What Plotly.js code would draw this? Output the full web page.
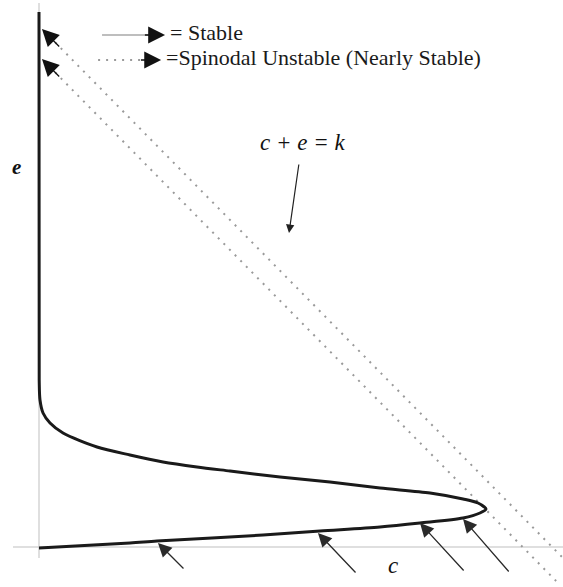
<!DOCTYPE html>
<html>
<head>
<meta charset="utf-8">
<script src="https://cdn.plot.ly/plotly-3.0.1.min.js"></script>
<style>html,body{margin:0;padding:0;background:#fff;}#chart{width:563px;height:587px;}</style>
</head>
<body>
<div id="chart"></div>
<script>
// Equilibrium curve (c, e)
const curveC = [0.000, 0.924, 1.198, 2.274, 2.853, 3.462, 3.868, 4.305, 4.477, 4.538,
                4.457, 4.305, 3.970, 3.462, 2.954, 2.447, 1.939, 1.604, 1.259, 0.924,
                0.589, 0.244, 0.112, 0.041, 0.010, 0.002, 0.000];
const curveE = [-0.01, 0.04, 0.06, 0.12, 0.16, 0.20, 0.24, 0.29, 0.34, 0.38,
                0.44, 0.48, 0.54, 0.59, 0.65, 0.70, 0.76, 0.80, 0.85, 0.92,
                1.00, 1.14, 1.24, 1.34, 1.47, 1.67, 5.35];
// Lines c + e = k (spinodal unstable trajectories)
const kValues = [4.91, 5.21];
// Stable trajectories: tails and tips
const stableTailC = [1.482, 3.228, 4.325, 4.782];
const stableTailE = [-0.23, -0.27, -0.25, -0.26];
const stableTipC  = [1.208, 2.832, 3.868, 4.305];
const stableTipE  = [0.04, 0.14, 0.24, 0.28];
// Texts
const legendStable = "= Stable";
const legendSpinodal = "=Spinodal Unstable (Nearly Stable)";
const lineLabel = "c + e = k";
const xLabel = "c";
const yLabel = "e";

const serif = "Liberation Serif, Times New Roman, serif";
const dotColor = "#9a9a9a";

const traces = [];
// dotted k lines
kValues.forEach(k => {
  const c0 = 0.05, c1 = k + 0.34;
  traces.push({x: [c0, c1], y: [k - c0, k - c1], mode: "lines",
    line: {color: dotColor, width: 2, dash: "2px,6px"}, hoverinfo: "skip"});
});
// legend dotted sample
traces.push({x: [0.60, 1.08], y: [4.87, 4.87], mode: "lines",
  line: {color: dotColor, width: 2, dash: "2px,6px"}, hoverinfo: "skip"});
// main curve
traces.push({x: curveC, y: curveE, mode: "lines",
  line: {color: "#1a1a1a", width: 3, shape: "spline", smoothing: 0.8}, hoverinfo: "skip"});

const ann = [];
// arrowheads at top of dotted lines
kValues.forEach(k => {
  ann.push({x: 0.03, y: k - 0.03, ax: 0.22, ay: k - 0.22, axref: "x", ayref: "y",
    xref: "x", yref: "y", text: "", showarrow: true, arrowhead: 2, arrowsize: 2.6,
    arrowwidth: 1.3, arrowcolor: "#111", standoff: 0});
});
// stable arrows
stableTipC.forEach((c, i) => {
  ann.push({x: c, y: stableTipE[i], ax: stableTailC[i], ay: stableTailE[i],
    axref: "x", ayref: "y", xref: "x", yref: "y", text: "", showarrow: true,
    arrowhead: 2, arrowsize: 2.1, arrowwidth: 1.3, arrowcolor: "#2a2a2a", standoff: 0});
});
// legend arrowheads
ann.push({x: 1.28, y: 5.12, ax: 1.06, ay: 5.12, axref: "x", ayref: "y", xref: "x", yref: "y",
  text: "", showarrow: true, arrowhead: 2, arrowsize: 2.6, arrowwidth: 1.3, arrowcolor: "#111", standoff: 0});
ann.push({x: 1.24, y: 4.87, ax: 1.02, ay: 4.87, axref: "x", ayref: "y", xref: "x", yref: "y",
  text: "", showarrow: true, arrowhead: 2, arrowsize: 2.6, arrowwidth: 1.3, arrowcolor: "#111", standoff: 0});
// legend texts
ann.push({x: 1.31, y: 5.15, xref: "x", yref: "y", xanchor: "left", yanchor: "middle",
  text: legendStable, showarrow: false, font: {family: serif, size: 22, color: "#1a1a1a"}});
ann.push({x: 1.27, y: 4.90, xref: "x", yref: "y", xanchor: "left", yanchor: "middle",
  text: legendSpinodal, showarrow: false, font: {family: serif, size: 22, color: "#1a1a1a"}});
// c+e=k label and arrow
ann.push({x: 2.68, y: 4.05, xref: "x", yref: "y", xanchor: "center", yanchor: "middle",
  text: "<i>" + lineLabel + "</i>", showarrow: false, font: {family: serif, size: 23, color: "#111"}});
ann.push({x: 2.538, y: 3.14, ax: 2.640, ay: 3.84, axref: "x", ayref: "y", xref: "x", yref: "y",
  text: "", showarrow: true, arrowhead: 2, arrowsize: 1.4, arrowwidth: 1.2, arrowcolor: "#222", standoff: 0});
// axis letters
ann.push({x: -0.23, y: 3.80, xref: "x", yref: "y", text: "<i><b>" + yLabel + "</b></i>",
  showarrow: false, font: {family: serif, size: 21, color: "#111"}});
ann.push({x: 3.595, y: -0.18, xref: "x", yref: "y", text: "<i>" + xLabel + "</i>",
  showarrow: false, font: {family: serif, size: 23, color: "#111"}});

const shapes = [
  {type: "line", xref: "x", yref: "y", x0: -0.264, x1: 5.32, y0: 0, y1: 0,
   line: {color: "#d4d4d4", width: 1.5}, layer: "below"},
  {type: "line", xref: "x", yref: "y", x0: 0, x1: 0, y0: -0.11, y1: 5.44,
   line: {color: "#d4d4d4", width: 1.5}, layer: "below"},
  {type: "line", xref: "x", yref: "y", x0: 0.64, x1: 1.12, y0: 5.12, y1: 5.12,
   line: {color: "#a8a8a8", width: 1.5}}
];

const layout = {
  width: 563, height: 587,
  margin: {l: 0, r: 0, t: 0, b: 0},
  paper_bgcolor: "#fff", plot_bgcolor: "#fff",
  showlegend: false,
  xaxis: {range: [-39 / 98.5, 524 / 98.5], visible: false, fixedrange: true},
  yaxis: {range: [-0.40, 5.47], visible: false, fixedrange: true},
  shapes: shapes,
  annotations: ann
};
Plotly.newPlot("chart", traces, layout, {staticPlot: true, displayModeBar: false});
</script>
</body>
</html>
